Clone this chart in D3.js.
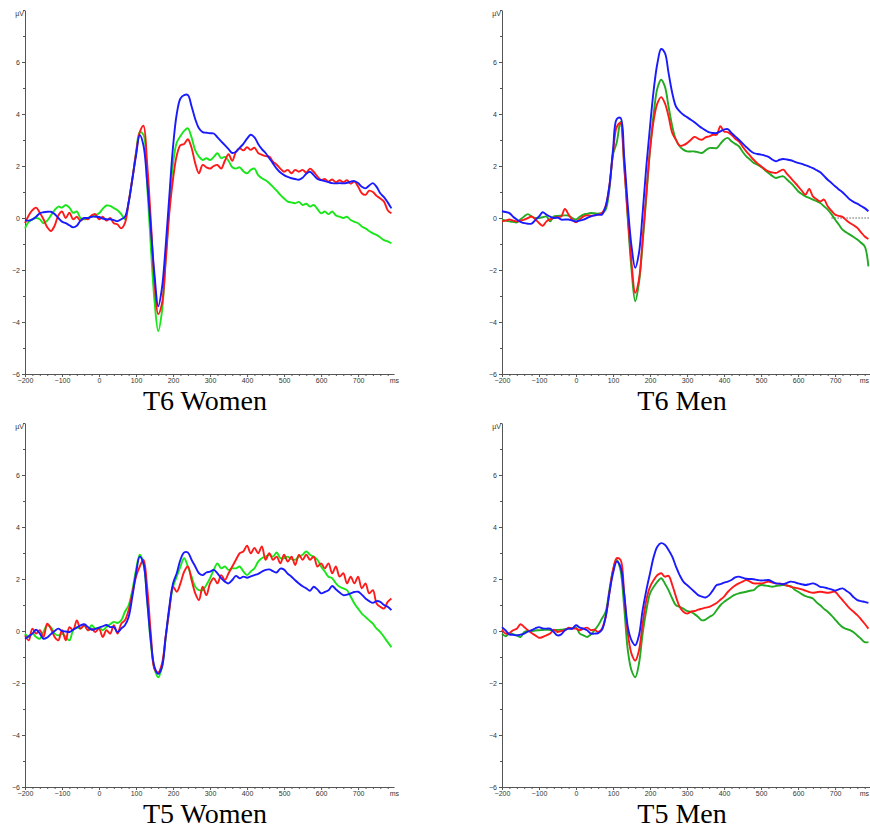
<!DOCTYPE html>
<html>
<head>
<meta charset="utf-8">
<script src="https://cdn.jsdelivr.net/npm/d3@7"></script>
<style>
  body { margin: 0; background: #fff; }
  .axis text { font-family: "Liberation Sans", Arial, sans-serif; font-size: 7px; fill: #333; }
  .axis path, .axis line { stroke: #555; }
</style>
</head>
<body>
<svg id="chart" width="870" height="828"></svg>
<script>
// sample grid: -200 .. 790 ms, one sample every 10 ms
const times = d3.range(-200, 800, 10)
const xTicks = [-200, -100, 0, 100, 200, 300, 400, 500, 600, 700]
const yTicks = [-6, -4, -2, 0, 2, 4, 6]
const titles = ["T6 Women", "T6 Men", "T5 Women", "T5 Men"]

// T6 Women
const t6WomenBlue = [
  -0.08,-0.1,-0.05,0.05,0.18,0.22,0.24,0.24,0.15,0.0,
  -0.14,-0.2,-0.28,-0.36,-0.3,-0.1,0.0,0.0,0.05,0.05,
  0.04,-0.02,-0.05,-0.05,-0.08,-0.12,-0.05,0.05,0.6,1.5,
  2.4,3.19,2.8,1.4,-0.4,-2.2,-3.4,-2.7,-1.1,0.85,
  2.75,4.0,4.6,4.73,4.73,4.3,3.8,3.45,3.3,3.28,
  3.26,3.25,3.1,2.95,2.8,2.65,2.5,2.55,2.7,2.85,
  3.05,3.2,3.1,2.85,2.65,2.5,2.3,2.1,1.9,1.75,
  1.65,1.58,1.53,1.5,1.47,1.55,1.7,1.78,1.65,1.5,
  1.46,1.42,1.38,1.34,1.33,1.34,1.33,1.35,1.4,1.42,
  1.35,1.2,1.14,1.25,1.34,1.2,0.95,0.8,0.6,0.37]
const t6WomenRed = [
  -0.2,0.1,0.3,0.4,0.2,-0.05,-0.35,-0.5,-0.3,0.1,
  0.25,0.0,0.2,-0.05,0.05,-0.1,0.0,-0.05,0.1,0.15,
  -0.05,0.05,-0.1,0.0,-0.2,-0.25,-0.4,-0.2,0.6,1.5,
  2.5,3.3,3.55,2.1,-0.1,-2.5,-3.7,-3.3,-1.7,0.2,
  1.5,2.4,2.8,2.85,3.03,2.7,2.1,1.72,2.04,1.95,
  1.9,2.0,2.04,1.9,2.2,2.45,2.2,2.55,2.68,2.6,
  2.72,2.62,2.7,2.5,2.43,2.38,2.36,2.17,2.05,1.9,
  1.78,1.85,1.72,1.85,1.78,1.85,1.75,1.9,1.78,1.6,
  1.46,1.5,1.4,1.48,1.38,1.45,1.38,1.45,1.32,1.4,
  1.21,0.95,0.89,1.05,1.0,0.85,0.75,0.63,0.3,0.18]
const t6WomenGreen = [
  -0.4,-0.15,-0.05,0.0,-0.05,-0.2,-0.1,0.1,0.3,0.44,
  0.4,0.5,0.4,0.2,0.25,0.0,-0.05,0.0,0.05,0.1,
  0.18,0.35,0.48,0.47,0.38,0.3,0.15,-0.05,0.6,1.5,
  2.5,3.3,3.2,1.3,-1.1,-3.2,-4.35,-3.6,-1.6,0.4,
  2.1,2.9,3.15,3.35,3.45,3.1,2.6,2.36,2.23,2.3,
  2.23,2.35,2.49,2.3,2.35,2.2,1.95,1.9,1.95,1.8,
  1.72,1.85,1.9,1.65,1.53,1.45,1.34,1.2,1.05,0.89,
  0.75,0.63,0.6,0.57,0.62,0.5,0.55,0.44,0.5,0.35,
  0.18,0.25,0.15,0.25,0.1,0.05,0.0,0.05,-0.08,-0.15,
  -0.2,-0.33,-0.4,-0.5,-0.59,-0.65,-0.75,-0.85,-0.9,-0.97]

// T6 Men
const t6MenBlue = [
  0.26,0.23,0.19,0.05,-0.06,-0.15,-0.2,-0.22,-0.22,-0.08,
  0.06,0.22,0.13,0.05,0.0,0.02,-0.06,-0.06,-0.06,-0.1,
  -0.13,-0.1,-0.06,0.0,0.06,0.1,0.13,0.13,0.45,1.22,
  2.63,3.8,3.85,2.37,0.45,-1.09,-1.92,-1.35,0.19,1.99,
  3.53,4.94,5.96,6.5,6.35,5.58,4.81,4.29,4.1,3.97,
  3.88,3.78,3.68,3.57,3.46,3.37,3.29,3.27,3.27,3.33,
  3.4,3.42,3.27,3.14,3.01,2.87,2.73,2.6,2.5,2.46,
  2.44,2.4,2.35,2.25,2.18,2.24,2.27,2.25,2.22,2.17,
  2.12,2.08,2.03,1.98,1.92,1.84,1.76,1.62,1.47,1.35,
  1.22,1.1,0.99,0.85,0.71,0.62,0.55,0.46,0.38,0.26]
const t6MenRed = [
  -0.13,-0.1,-0.06,-0.1,-0.13,-0.1,-0.06,0.0,0.06,-0.05,
  -0.19,-0.3,-0.13,-0.05,0.0,0.03,0.06,0.35,0.13,-0.06,
  -0.17,-0.05,0.06,0.1,0.09,0.1,0.13,0.19,0.45,1.22,
  2.5,3.5,3.65,2.0,0.06,-1.73,-2.88,-2.37,-0.83,0.96,
  2.63,3.78,4.42,4.65,4.42,3.91,3.27,3.01,2.78,2.8,
  2.88,3.0,3.12,3.05,3.01,3.1,3.14,3.2,3.2,3.53,
  3.33,3.3,3.2,3.05,2.95,2.75,2.56,2.4,2.24,2.1,
  1.99,1.88,1.79,1.75,1.73,1.8,1.86,1.7,1.54,1.38,
  1.22,1.05,0.9,1.12,0.83,0.72,0.64,0.71,0.45,0.28,
  0.13,0.08,0.04,-0.08,-0.19,-0.28,-0.38,-0.55,-0.71,-0.81]
const t6MenGreen = [
  -0.06,-0.1,-0.13,-0.15,-0.17,-0.05,0.06,0.15,0.06,0.0,
  0.0,0.03,0.06,-0.13,0.06,0.08,0.09,0.1,0.09,0.0,
  -0.06,0.05,0.13,0.16,0.19,0.18,0.17,0.19,0.32,1.09,
  2.45,2.9,3.7,2.12,-0.06,-1.99,-3.2,-2.5,-0.96,0.83,
  2.63,4.04,5.0,5.32,5.06,4.29,3.53,3.01,2.76,2.63,
  2.56,2.56,2.56,2.53,2.5,2.6,2.69,2.69,2.69,2.85,
  3.01,3.08,2.95,2.85,2.76,2.55,2.37,2.25,2.12,2.05,
  1.96,1.85,1.73,1.62,1.54,1.58,1.6,1.48,1.35,1.2,
  1.03,0.92,0.83,0.77,0.71,0.65,0.58,0.45,0.32,0.15,
  -0.06,-0.25,-0.45,-0.55,-0.64,-0.73,-0.83,-0.95,-1.09,-1.86]

// T5 Women
const t5WomenBlue = [
  -0.3,-0.2,-0.1,0.05,-0.1,-0.3,-0.25,-0.12,0.0,0.09,
  0.0,-0.02,-0.04,0.05,0.13,0.22,0.26,0.15,0.05,0.08,
  0.13,0.18,0.23,0.15,0.15,-0.04,0.09,0.22,0.54,1.32,
  2.22,2.86,2.6,1.19,-0.36,-1.39,-1.65,-1.39,-0.23,0.93,
  1.83,2.22,2.74,3.02,3.02,2.74,2.48,2.22,2.15,2.25,
  2.28,2.35,2.22,2.03,1.9,1.83,1.96,2.12,2.03,2.09,
  2.05,2.1,2.15,2.2,2.28,2.35,2.37,2.3,2.25,2.4,
  2.36,2.2,2.09,1.95,1.83,1.72,1.64,1.55,1.7,1.6,
  1.45,1.5,1.57,1.73,1.6,1.48,1.38,1.4,1.45,1.5,
  1.51,1.4,1.25,1.15,1.08,1.15,1.12,1.0,0.93,0.8]
const t5WomenRed = [
  -0.17,-0.36,0.09,-0.1,0.03,-0.23,0.28,0.09,-0.23,-0.36,
  0.03,-0.36,0.15,0.03,0.41,0.09,0.22,0.03,0.09,-0.04,
  0.09,-0.23,0.03,-0.1,0.22,-0.1,0.28,0.41,0.8,1.45,
  2.09,2.48,2.74,1.7,-0.1,-1.46,-1.59,-1.26,-0.23,0.8,
  1.7,1.51,1.83,2.28,2.48,1.96,1.45,1.19,1.7,1.38,
  1.83,2.03,1.83,2.15,1.96,2.22,2.48,2.74,2.99,3.06,
  3.28,2.99,3.19,2.99,3.25,2.74,2.99,2.74,2.86,2.6,
  2.93,2.67,2.86,2.54,2.93,2.74,2.93,2.74,2.86,2.48,
  2.6,2.41,2.6,2.22,2.48,2.09,2.22,1.83,2.09,1.83,
  2.09,1.64,1.83,1.45,1.57,1.06,0.93,0.86,1.12,1.25]
const t5WomenGreen = [
  -0.1,-0.23,-0.1,-0.23,-0.3,-0.04,0.22,0.15,-0.1,-0.17,
  -0.1,-0.23,-0.36,0.03,0.15,0.09,0.22,0.03,0.22,0.09,
  0.13,0.03,0.15,0.26,0.35,0.31,0.41,0.74,0.99,1.57,
  2.35,2.93,2.6,1.19,-0.49,-1.46,-1.78,-1.39,-0.3,0.86,
  1.7,2.09,2.48,2.8,2.48,2.09,1.7,1.57,1.57,1.77,
  2.03,2.35,2.6,2.41,2.48,2.35,2.41,2.41,2.48,2.29,
  2.15,2.29,2.41,2.67,2.8,2.86,2.93,2.86,3.02,2.8,
  2.8,2.86,2.76,2.74,2.86,2.93,3.06,2.93,2.86,2.74,
  2.48,2.29,2.09,2.03,1.83,1.7,1.64,1.57,1.32,1.06,
  0.86,0.67,0.54,0.41,0.28,0.09,-0.04,-0.23,-0.43,-0.62]

// T5 Men
const t5MenBlue = [
  0.15,0.02,-0.13,-0.15,-0.17,-0.14,-0.1,-0.02,0.03,0.1,
  0.15,0.1,0.09,0.09,-0.04,-0.17,-0.13,0.03,0.09,0.09,
  0.22,0.13,0.09,0.03,-0.1,-0.1,-0.08,0.05,0.54,1.45,
  2.22,2.67,2.48,1.45,0.15,-0.36,-0.55,-0.17,0.8,1.57,
  2.22,2.86,3.25,3.38,3.32,3.12,2.86,2.48,2.15,1.9,
  1.77,1.64,1.51,1.38,1.32,1.29,1.38,1.57,1.77,1.8,
  1.86,1.9,1.96,2.06,2.09,2.05,2.01,2.0,1.99,1.96,
  1.94,1.95,1.96,1.9,1.83,1.82,1.8,1.85,1.9,1.88,
  1.83,1.8,1.77,1.8,1.83,1.78,1.7,1.68,1.64,1.6,
  1.55,1.6,1.64,1.55,1.45,1.3,1.19,1.15,1.12,1.08]
const t5MenRed = [
  0.05,-0.1,-0.08,0.03,0.09,0.26,0.15,0.03,-0.08,-0.17,
  -0.26,-0.23,-0.17,-0.1,0.05,-0.04,0.0,0.03,0.13,0.09,
  0.09,0.03,0.09,0.13,0.03,0.05,-0.04,0.09,0.54,1.45,
  2.35,2.8,2.74,1.45,-0.1,-0.88,-1.14,-0.75,0.28,1.19,
  1.7,1.96,2.15,2.22,2.09,2.12,1.77,1.32,0.93,0.74,
  0.67,0.74,0.77,0.82,0.86,0.9,0.93,1.0,1.08,1.2,
  1.32,1.5,1.64,1.75,1.83,1.9,1.96,1.9,1.83,1.83,
  1.83,1.86,1.9,1.86,1.83,1.82,1.8,1.75,1.7,1.67,
  1.64,1.6,1.55,1.5,1.47,1.49,1.51,1.49,1.47,1.49,
  1.51,1.35,1.19,1.02,0.86,0.74,0.61,0.45,0.28,0.09]
const t5MenGreen = [
  -0.1,-0.2,-0.1,-0.12,-0.17,-0.23,-0.04,0.0,0.0,0.02,
  0.03,0.04,0.05,0.04,0.03,0.04,0.05,0.07,0.09,0.1,
  0.13,-0.1,-0.17,-0.23,-0.13,0.03,0.22,0.48,0.74,1.57,
  2.35,2.74,2.35,0.93,-0.75,-1.52,-1.78,-1.26,-0.1,0.8,
  1.45,1.7,1.9,2.03,1.83,1.57,1.25,0.99,0.93,0.86,
  0.77,0.74,0.65,0.54,0.41,0.44,0.54,0.62,0.8,0.99,
  1.12,1.22,1.32,1.4,1.45,1.48,1.51,1.55,1.57,1.7,
  1.77,1.75,1.73,1.7,1.73,1.75,1.77,1.75,1.73,1.6,
  1.51,1.42,1.34,1.3,1.25,1.1,0.99,0.85,0.74,0.6,
  0.44,0.28,0.15,0.08,0.03,-0.05,-0.17,-0.3,-0.43,-0.43]

// start of the dotted zero line (ms), only drawn in T6 Men
const zeroLineStart = [null, 690, null, null]

const panels = [
  {x0: 25,  y0: 0,   green: "#19e619", series: [t6WomenGreen, t6WomenRed, t6WomenBlue]},
  {x0: 502, y0: 0,   green: "#22aa22", series: [t6MenGreen, t6MenRed, t6MenBlue]},
  {x0: 25,  y0: 413, green: "#19e619", series: [t5WomenGreen, t5WomenRed, t5WomenBlue]},
  {x0: 502, y0: 413, green: "#22aa22", series: [t5MenGreen, t5MenRed, t5MenBlue]}
]

const svg = d3.select("#chart")

panels.forEach((p, i) => {
  const g = svg.append("g")
  const x = d3.scaleLinear().domain([-200, 797]).range([p.x0, p.x0 + 369])
  const y = d3.scaleLinear().domain([-6, 8]).range([p.y0 + 374, p.y0 + 10])

  // y axis: labelled every 2 µV, minor ticks in between
  g.append("g").attr("class", "axis")
    .attr("transform", `translate(${p.x0},0)`)
    .call(d3.axisLeft(y).tickValues(yTicks).tickSize(3).tickSizeOuter(0).tickPadding(2))
  g.append("g").attr("class", "axis")
    .attr("transform", `translate(${p.x0},0)`)
    .call(d3.axisLeft(y).tickValues([-5, -3, -1, 1, 3, 5, 7, 8]).tickSize(2).tickFormat(""))
    .select(".domain").remove()

  // x axis
  g.append("g").attr("class", "axis")
    .attr("transform", `translate(0,${p.y0 + 374})`)
    .call(d3.axisBottom(x).tickValues(xTicks).tickSize(3).tickSizeOuter(0).tickPadding(1))
  g.append("g").attr("class", "axis")
    .attr("transform", `translate(0,${p.y0 + 374})`)
    .call(d3.axisBottom(x).tickValues(d3.range(-180, 790, 20).filter(t => t % 100 !== 0)).tickSize(2).tickFormat(""))
    .select(".domain").remove()

  g.append("text").attr("x", p.x0 - 1).attr("y", p.y0 + 16)
    .attr("text-anchor", "end")
    .style("font-family", "Liberation Sans, Arial, sans-serif").style("font-size", "7px").style("fill", "#333")
    .text("µV")
  g.append("text").attr("x", Math.min(p.x0 + 374, 869)).attr("y", p.y0 + 383)
    .attr("text-anchor", "end")
    .style("font-family", "Liberation Sans, Arial, sans-serif").style("font-size", "7px").style("fill", "#333")
    .text("ms")

  if (zeroLineStart[i] !== null) {
    g.append("line")
      .attr("x1", x(zeroLineStart[i])).attr("x2", x(797))
      .attr("y1", y(0)).attr("y2", y(0))
      .attr("stroke", "#333").attr("stroke-width", 0.8)
      .attr("stroke-dasharray", "1.5,1.5")
  }

  const line = d3.line()
    .x((d, k) => x(times[k]))
    .y(d => y(d))
    .curve(d3.curveCatmullRom.alpha(0.5))

  const colors = [p.green, "#ff1a1a", "#1a1aff"]
  p.series.forEach((s, k) => {
    g.append("path").datum(s)
      .attr("d", line)
      .attr("fill", "none")
      .attr("stroke", colors[k])
      .attr("stroke-width", 1.9)
      .attr("stroke-linejoin", "round")
  })

  g.append("text")
    .attr("x", p.x0 + 180).attr("y", p.y0 + 410)
    .attr("text-anchor", "middle")
    .style("font-family", "Liberation Serif, Times New Roman, serif")
    .style("font-size", "28px").style("fill", "#000")
    .text(titles[i])
})
</script>
</body>
</html>
